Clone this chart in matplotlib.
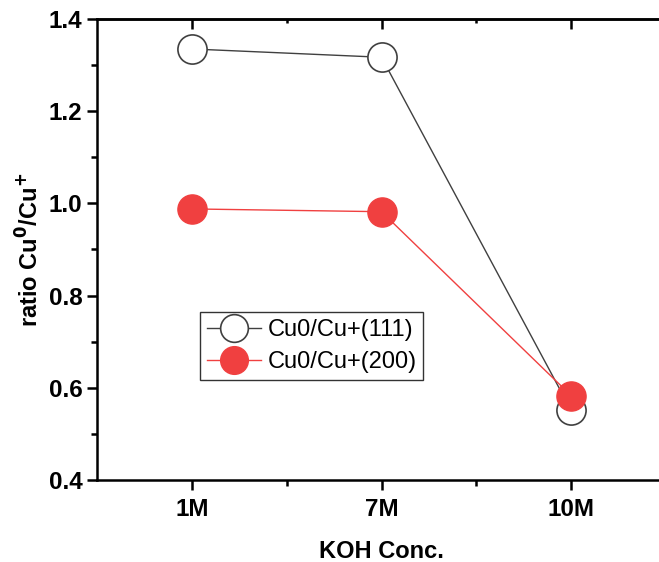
import matplotlib.pyplot as plt
from matplotlib.ticker import MultipleLocator, FixedLocator

plt.rcParams['font.family'] = 'Liberation Sans'

categories = ['1M', '7M', '10M']
ratio_111 = [1.335, 1.317, 0.551]
ratio_200 = [0.988, 0.982, 0.583]

x = [1, 2, 3]

fig = plt.figure(figsize=(6.59, 5.62), dpi=100)
ax = fig.add_axes([97 / 659, 1 - 480 / 562, 569 / 659, 461 / 562])

ax.plot(x, ratio_111, color='#404040', linewidth=1, marker='o', markersize=21,
        markerfacecolor='white', markeredgecolor='#404040', markeredgewidth=1.2,
        label='Cu0/Cu+(111)')
ax.plot(x, ratio_200, color='#f04040', linewidth=1, marker='o', markersize=21,
        markerfacecolor='#f04040', markeredgecolor='#f04040',
        label='Cu0/Cu+(200)')

ax.set_xlim(0.5, 3.5)
ax.set_ylim(0.4, 1.4)
ax.set_xticks(x)
ax.set_xticklabels(categories)
ax.xaxis.set_minor_locator(FixedLocator([1.5, 2.5]))
ax.yaxis.set_major_locator(MultipleLocator(0.2))
ax.yaxis.set_minor_locator(MultipleLocator(0.1))

for side in ['left', 'bottom', 'top']:
    ax.spines[side].set_linewidth(1.8)
ax.spines['right'].set_visible(False)

ax.tick_params(axis='both', which='major', direction='out', length=7, width=1.8,
               labelsize=17.5)
ax.tick_params(axis='both', which='minor', direction='out', length=4, width=1.8)
ax.tick_params(axis='x', which='major', pad=6)
ax.tick_params(axis='y', which='both', right=False)

# inward ticks along the top spine
top = ax.secondary_xaxis('top')
top.set_xticks(x)
top.set_xticklabels([])
top.xaxis.set_minor_locator(FixedLocator([1.5, 2.5]))
top.tick_params(which='major', direction='in', length=7, width=1.8)
top.tick_params(which='minor', direction='in', length=3, width=1.8)
top.spines['top'].set_linewidth(1.8)

for lab in ax.get_xticklabels() + ax.get_yticklabels():
    lab.set_fontweight('bold')

ax.set_xlabel('KOH Conc.', fontsize=17, fontweight='bold', labelpad=14)
ax.set_ylabel('ratio Cu$^\\mathbf{0}$/Cu$^\\mathbf{+}$', fontsize=17,
              fontweight='bold', labelpad=4)

leg = ax.legend(loc='lower left', bbox_to_anchor=(0.181, 0.217), fontsize=17,
                frameon=True, fancybox=False, edgecolor='black',
                handlelength=2.3, handletextpad=0.25, borderpad=0.3,
                labelspacing=0.4, markerscale=0.95, borderaxespad=0)
leg.get_frame().set_linewidth(1)

fig.savefig('out.png', dpi=100)
